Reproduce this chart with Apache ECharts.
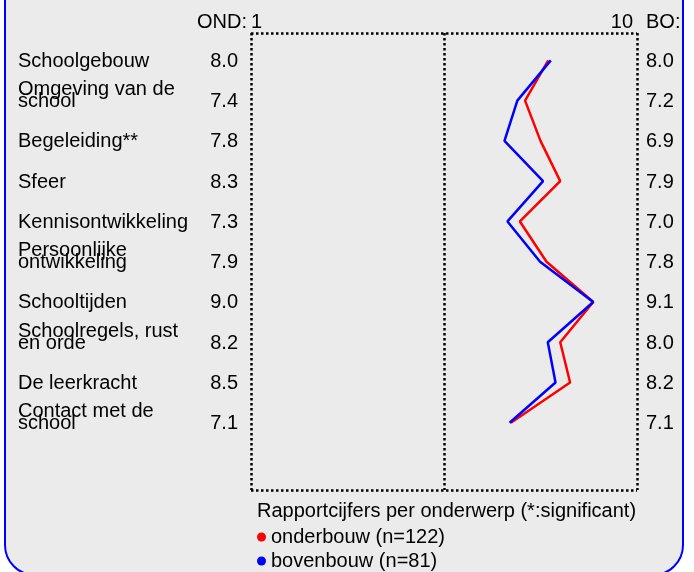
<!DOCTYPE html>
<html><head><meta charset="utf-8">
<script src="https://cdn.jsdelivr.net/npm/echarts@6/dist/echarts.min.js"></script>
<style>html,body{margin:0;padding:0;background:#fff}#c{width:694px;height:572px}</style>
</head><body><div id="c"></div>
<script>
// ---- data ----
const categories = ["Schoolgebouw","Omgeving van de\nschool","Begeleiding**","Sfeer","Kennisontwikkeling","Persoonlijke\nontwikkeling","Schooltijden","Schoolregels, rust\nen orde","De leerkracht","Contact met de\nschool"];
const ondLabels = ["8.0","7.4","7.8","8.3","7.3","7.9","9.0","8.2","8.5","7.1"];
const boLabels  = ["8.0","7.2","6.9","7.9","7.0","7.8","9.1","8.0","8.2","7.1"];
const onderbouw = [7.93,7.39,7.75,8.21,7.27,7.89,8.98,8.21,8.44,7.06];
const bovenbouw = [7.99,7.21,6.91,7.81,6.98,7.74,8.98,7.92,8.10,7.03];
const xTicks = ["1","10"];
const headLeft = "OND:";
const headRight = "BO:";
const seriesNames = ["onderbouw (n=122)","bovenbouw (n=81)"];
const chartTitle = "Rapportcijfers per onderwerp (*:significant)";

const X_MIN = 1, X_MAX = 10, Y_MIN = -0.68, Y_MAX = 10.67;
const FONT = "'Liberation Sans', Arial, sans-serif";
const FS = 20;

const chart = echarts.init(document.getElementById('c'), null, {renderer:'canvas'});
const dotted = {color:'#000', width:2.5, type:[2.5,2.5], opacity:1};
const lbl = (extra) => Object.assign({show:true, position:'inside', color:'#000', opacity:1, textBorderWidth:0,
  textShadowBlur:0, fontFamily:FONT, fontSize:FS}, extra);
const hidden = {show:false};
const textSeries = (data, label) => ({type:'scatter', symbolSize:0, clip:false, silent:true,
  itemStyle:{opacity:1}, emphasis:{disabled:true}, data, label});

chart.setOption({
  animation:false,
  backgroundColor:'#fff',
  graphic:[{type:'rect', z:-10, shape:{x:5, y:-40, width:678, height:615, r:30},
            style:{fill:'#ebebeb', stroke:'#0000ff', lineWidth:2}}],
  title:{text:chartTitle, left:252, top:496, padding:5,
         textStyle:{fontFamily:FONT, fontSize:FS, fontWeight:'normal', color:'#000'}},
  legend:{orient:'vertical', left:257, top:527, padding:0, itemGap:4, itemWidth:9, itemHeight:9, icon:'circle',
          data:seriesNames, textStyle:{fontFamily:FONT, fontSize:FS, color:'#000', lineHeight:20}},
  grid:{left:251, right:57, top:33, bottom:82},
  xAxis:{type:'value', min:X_MIN, max:X_MAX, axisLine:hidden, axisTick:hidden, axisLabel:hidden, splitLine:hidden},
  yAxis:{type:'value', min:Y_MIN, max:Y_MAX, inverse:true, axisLine:hidden, axisTick:hidden, axisLabel:hidden, splitLine:hidden},
  series:[
    {name:seriesNames[0], type:'line', showSymbol:false, symbol:'circle', color:'#ff0000',
     lineStyle:{color:'#ff0000', width:2.5}, data:onderbouw.map((v,i)=>[v,i]),
     markLine:{silent:true, symbol:'none', label:{show:false}, lineStyle:dotted, emphasis:{disabled:true},
       data:[{xAxis:(X_MIN+X_MAX)/2},{xAxis:X_MIN},{xAxis:X_MAX},{yAxis:Y_MIN},{yAxis:Y_MAX}]}},
    {name:seriesNames[1], type:'line', showSymbol:false, symbol:'circle', color:'#0000ff',
     lineStyle:{color:'#0000ff', width:2.5}, data:bovenbouw.map((v,i)=>[v,i])},
    textSeries(categories.map((c,i)=>[X_MIN,i]),
      lbl({formatter:p=>categories[p.dataIndex], align:'left', verticalAlign:'bottom', lineHeight:12, offset:[-233,7]})),
    textSeries(ondLabels.map((c,i)=>[X_MIN,i]),
      lbl({formatter:p=>ondLabels[p.dataIndex], align:'right', verticalAlign:'middle', offset:[-13,1]})),
    textSeries(boLabels.map((c,i)=>[X_MAX,i]),
      lbl({formatter:p=>boLabels[p.dataIndex], align:'left', verticalAlign:'middle', offset:[9,1]})),
    textSeries([
       {name:headLeft,  value:[X_MIN,Y_MIN], label:{align:'right', offset:[-4,-11]}},
       {name:xTicks[0], value:[X_MIN,Y_MIN], label:{align:'left',  offset:[0,-11]}},
       {name:xTicks[1], value:[X_MAX,Y_MIN], label:{align:'right', offset:[-4,-11]}},
       {name:headRight, value:[X_MAX,Y_MIN], label:{align:'left',  offset:[9,-11]}}
     ], lbl({verticalAlign:'middle', formatter:p=>p.name}))
  ]
});
</script></body></html>
